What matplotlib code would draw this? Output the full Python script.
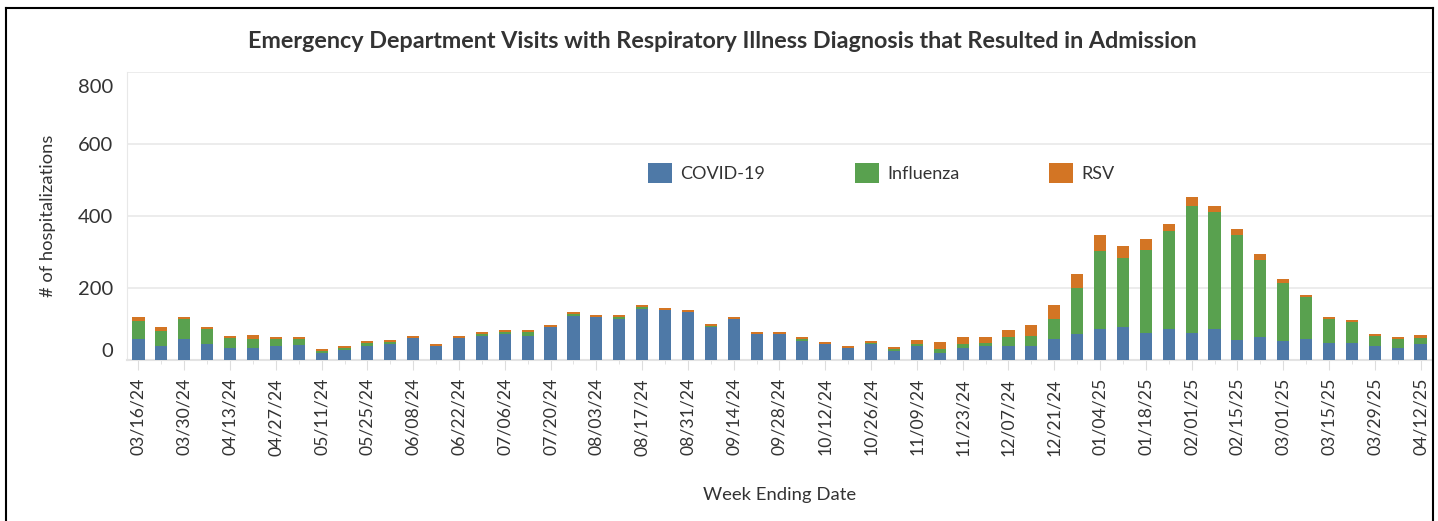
import matplotlib.pyplot as plt
import numpy as np
from matplotlib.lines import Line2D
from matplotlib.ticker import FixedLocator
import matplotlib.transforms as mtransforms

plt.rcParams['font.family'] = ['Lato', 'DejaVu Sans']

# week ending dates (every week, 03/16/24 .. 04/12/25)
weeks = ['03/16/24', '03/23/24', '03/30/24', '04/06/24', '04/13/24', '04/20/24', '04/27/24',
         '05/04/24', '05/11/24', '05/18/24', '05/25/24', '06/01/24', '06/08/24', '06/15/24',
         '06/22/24', '06/29/24', '07/06/24', '07/13/24', '07/20/24', '07/27/24', '08/03/24',
         '08/10/24', '08/17/24', '08/24/24', '08/31/24', '09/07/24', '09/14/24', '09/21/24',
         '09/28/24', '10/05/24', '10/12/24', '10/19/24', '10/26/24', '11/02/24', '11/09/24',
         '11/16/24', '11/23/24', '11/30/24', '12/07/24', '12/14/24', '12/21/24', '12/28/24',
         '01/04/25', '01/11/25', '01/18/25', '01/25/25', '02/01/25', '02/08/25', '02/15/25',
         '02/22/25', '03/01/25', '03/08/25', '03/15/25', '03/22/25', '03/29/25', '04/05/25',
         '04/12/25']

covid = [58, 39, 58, 44, 33, 33, 39, 42, 19, 28, 39, 45, 61, 39, 61, 67, 72, 67, 92, 122,
         119, 114, 142, 139, 133, 92, 114, 72, 72, 53, 44, 33, 45, 25, 39, 19, 33, 39, 39, 39,
         58, 72, 86, 92, 75, 86, 75, 86, 56, 64, 53, 58, 47, 47, 39, 33, 44]
flu = [50, 42, 56, 42, 28, 25, 19, 16, 6, 5, 8, 6, 0, 0, 0, 5, 6, 11, 0, 6,
       0, 5, 5, 0, 0, 2, 0, 0, 0, 5, 0, 0, 2, 6, 5, 12, 11, 8, 25, 28,
       56, 128, 217, 191, 231, 272, 353, 325, 291, 214, 161, 117, 67, 59, 28, 25, 17]
rsv = [11, 11, 5, 6, 6, 11, 6, 6, 6, 6, 6, 5, 6, 5, 6, 6, 5, 5, 5, 5,
       6, 6, 6, 5, 6, 6, 5, 6, 6, 6, 6, 6, 6, 5, 12, 19, 20, 17, 19, 30,
       39, 39, 44, 34, 30, 20, 25, 17, 17, 16, 11, 6, 5, 5, 5, 6, 8]

c_covid = '#4e79a7'
c_flu = '#59a14f'
c_rsv = '#d37524'
txt = '#333333'

fig = plt.figure(figsize=(14.38, 5.21), dpi=100)
ax = fig.add_axes([127/1438, 1-360/521, (1432-127)/1438, 288/521])

x = np.arange(len(weeks))
covid = np.array(covid)
flu = np.array(flu)
rsv = np.array(rsv)
w = 0.53
ax.bar(x, covid, w, color=c_covid, label='COVID-19', zorder=3)
ax.bar(x, flu, w, bottom=covid, color=c_flu, label='Influenza', zorder=3)
ax.bar(x, rsv, w, bottom=covid+flu, color=c_rsv, label='RSV', zorder=3)

ax.set_xlim(-0.5, len(weeks)-0.5)
ax.set_ylim(0, 800)

ax.set_yticks([0, 200, 400, 600, 800])
ax.yaxis.grid(True, color='#ebebeb', linewidth=1.3, zorder=0)
ax.tick_params(axis='y', length=0, labelsize=14.5, labelcolor=txt, pad=10)
ylabs = ax.get_yticklabels()
ylabs[0].set_va('bottom')
ylabs[-1].set_va('top')
# tableau pushes the top label down a bit
ylabs[-1].set_transform(ylabs[-1].get_transform() +
                        mtransforms.ScaledTranslation(0, -5/72, fig.dpi_scale_trans))

ax.set_xticks(x[::2])
ax.set_xticklabels(weeks[::2], rotation=90, fontsize=12.7, color=txt)
ax.xaxis.set_minor_locator(FixedLocator(x[1::2]))
ax.tick_params(axis='x', which='major', length=7, color='#dddddd', pad=6)
ax.tick_params(axis='x', which='minor', length=3, color='#dddddd')

for s in ['top', 'right']:
    ax.spines[s].set_visible(False)
ax.spines['left'].set_color('#e8e8e8')
ax.spines['bottom'].set_color('#e3e3e3')
ax.spines['bottom'].set_linewidth(1.5)

ax.set_ylabel('# of hospitalizations', fontsize=13.2, color=txt, labelpad=16)
ax.set_xlabel('Week Ending Date', fontsize=13.3, color=txt, labelpad=23)

leg = ax.legend(loc='center', bbox_to_anchor=(0.578, 1-(173-72)/288), ncol=3,
                frameon=False, fontsize=13, handlelength=1.35, handleheight=1.35,
                handletextpad=0.45, columnspacing=4.95, labelcolor=txt)

fig.text(0.502, 1-42/521, 'Emergency Department Visits with Respiratory Illness Diagnosis that Resulted in Admission',
         ha='center', va='center', fontsize=16.8, fontweight='bold', color=txt)

# outer frame
fig.add_artist(Line2D([6/1438, 6/1438], [0, 1-8/521], color='black', lw=1.5))
fig.add_artist(Line2D([6/1438, 1433/1438], [1-8/521, 1-8/521], color='black', lw=1.5))
fig.add_artist(Line2D([1433/1438, 1433/1438], [0, 1-8/521], color='black', lw=1.5))

fig.savefig('out.png', dpi=100)
